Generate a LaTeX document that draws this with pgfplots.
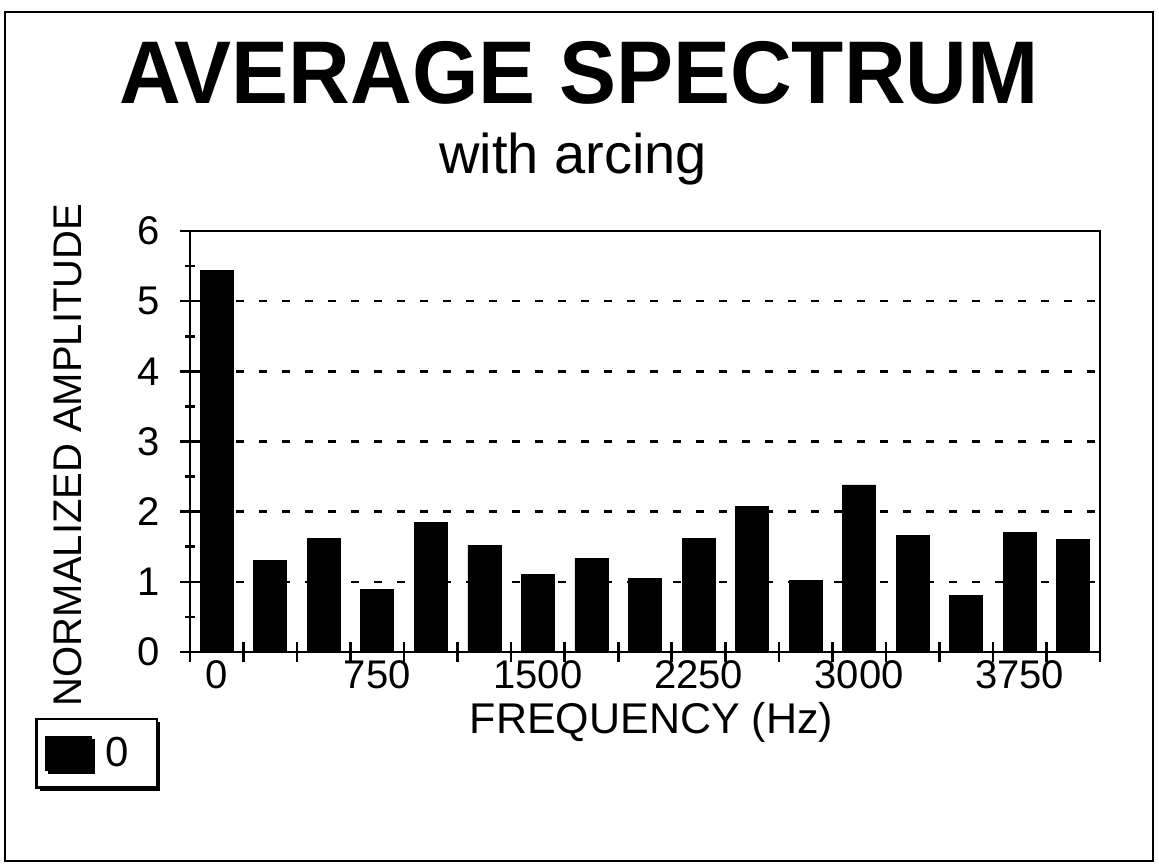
\documentclass[border=0pt]{standalone}
\usepackage{pgfplots}
\pgfplotsset{compat=1.18}
\usepackage{fontspec}
\setmainfont{Liberation Sans}
\usetikzlibrary{shadows}
\pgfplotstableread{
f a
0 5.44
250 1.31
500 1.62
750 0.89
1000 1.84
1250 1.52
1500 1.10
1750 1.33
2000 1.05
2250 1.62
2500 2.07
2750 1.02
3000 2.38
3250 1.66
3500 0.80
3750 1.70
4000 1.61
}\spectrum
\begin{document}
\begin{tikzpicture}
\useasboundingbox (0,0) rectangle (579.5pt,432.5pt);
\draw[line width=1.4pt] (2.5pt,2pt) rectangle (576.5pt,426.5pt);
\node[anchor=base, xscale=0.96, inner sep=0pt, font=\bfseries\fontsize{44.5}{50}\selectfont] at (289.5pt,380.5pt) {AVERAGE SPECTRUM};
\node[anchor=base, inner sep=0pt, font=\fontsize{28}{32}\selectfont] at (286.5pt,345.5pt) {with arcing};
\begin{axis}[
  at={(95pt,106.5pt)}, anchor=south west,
  width=455pt, height=210.5pt, scale only axis,
  xmin=-125, xmax=4125, ymin=0, ymax=6,
  ybar, bar width=16.5pt,
  axis line style={line width=1.3pt},
  tick style={line width=1.3pt, black},
  tick align=center,
  xtick pos=bottom, ytick pos=left,
  major tick length=10pt, minor tick length=5pt,
  xtick={-125,125,...,4125}, xticklabels={},
  extra x ticks={0,750,1500,2250,3000,3750},
  extra x tick labels={0,750,1500,2250,3000,3750},
  extra x tick style={major tick length=0pt},
  ytick={0,1,...,6}, minor y tick num=1,
  ymajorgrids,
  major grid style={line width=1.2pt, black, dash pattern=on 4pt off 7.5pt},
  /pgf/number format/assume math mode=true,
  tick label style={font=\fontsize{20}{24}\selectfont},
  yticklabel style={xshift=-6.5pt},
  xticklabel style={yshift=-1pt},
  xlabel={FREQUENCY (Hz)},
  ylabel={NORMALIZED AMPLITUDE},
  label style={font=\fontsize{20}{24}\selectfont},
  xlabel style={at={(0.507,-0.166)}, anchor=center, font=\fontsize{21.5}{24}\selectfont},
  ylabel style={at={(-0.134,0.468)}, anchor=center},
  legend style={at={(-0.170,-0.157)}, anchor=north west, draw=black, line width=1.2pt,
    drop shadow={shadow xshift=1.5pt, shadow yshift=-1.5pt, fill=black, opacity=1},
    font=\fontsize{21}{24}\selectfont, inner xsep=4pt, inner ysep=7pt, column sep=5pt},
  legend image code/.code={\fill[black] (0pt,-8pt) rectangle (22.5pt,8pt);},
]
\addplot[fill=black, draw=black] table[x=f, y=a] {\spectrum};
\addlegendentry{0\hspace*{8pt}}
\end{axis}
\end{tikzpicture}
\end{document}
